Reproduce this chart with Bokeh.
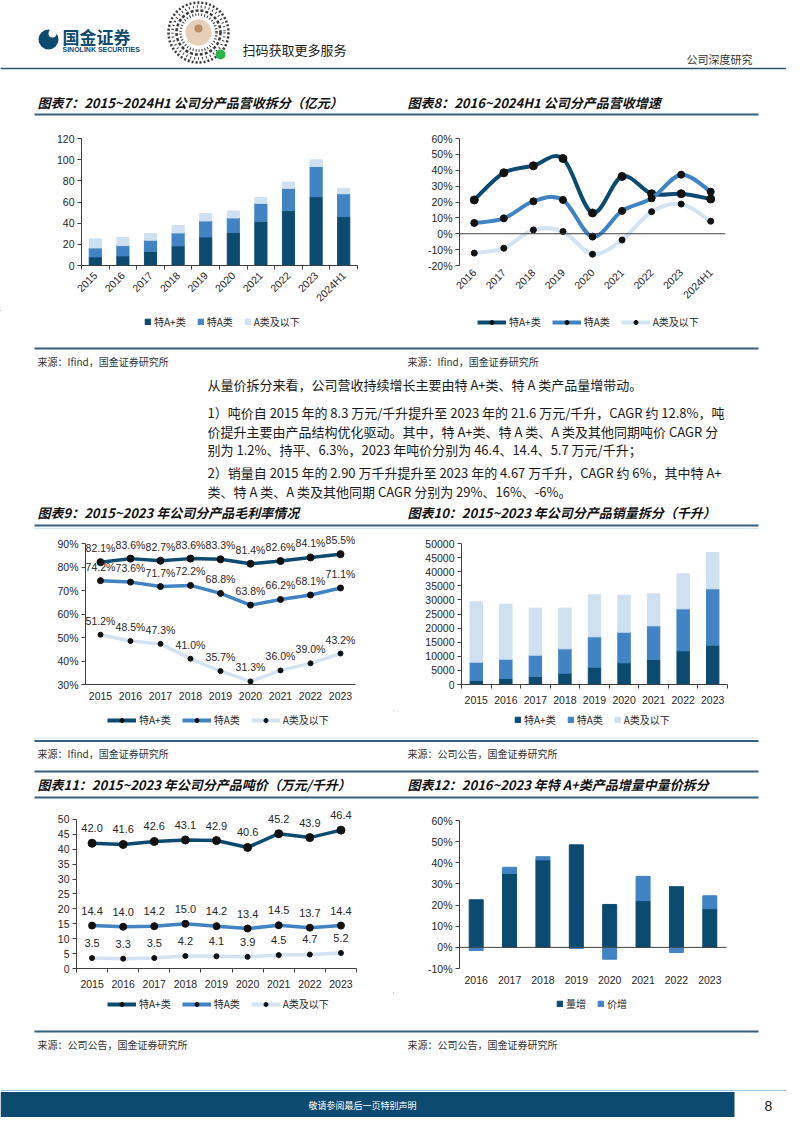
import math
from bokeh.plotting import figure
from bokeh.layouts import column, row
from bokeh.models import (Range1d, FixedTicker, Legend, LegendItem, Span, ColumnDataSource,
                          LabelSet, PrintfTickFormatter)
from bokeh.core.properties import value
from bokeh.embed import file_html
from bokeh.resources import INLINE

DARK = "#0d4a70"
MID = "#4283c4"
LIGHT = "#cfe0f1"
LLINE = "#d3e3f2"
AX = "#404040"
TXT = "#262626"
NUM = "Liberation Sans"
CJK = "Noto Sans CJK SC"

# ---------------- data ----------------
# 图表7 revenue (亿元)
rev_years = ["2015", "2016", "2017", "2018", "2019", "2020", "2021", "2022", "2023", "2024H1"]
rev_ap = [8.2, 9.1, 13.2, 18.5, 27.0, 31.1, 41.5, 51.8, 65.0, 46.2]
rev_a = [8.4, 9.7, 10.7, 12.3, 15.1, 13.8, 17.2, 21.1, 28.6, 21.6]
rev_low = [8.5, 7.6, 6.3, 6.9, 6.9, 6.6, 5.4, 5.9, 6.3, 5.1]
rev_ticks = [0, 20, 40, 60, 80, 100, 120]

# 图表8 revenue growth (%)
gr_years = ["2016", "2017", "2018", "2019", "2020", "2021", "2022", "2023", "2024H1"]
gr_ap = [21.3, 38.4, 42.8, 47.4, 13.1, 36.1, 25.2, 25.2, 21.9]
gr_a = [6.8, 9.7, 20.4, 21.3, -1.8, 14.4, 22.3, 37.2, 26.5]
gr_low = [-12.2, -9.1, 2.4, 1.4, -12.9, -3.9, 13.9, 18.7, 7.9]
gr_ticks = [-20, -10, 0, 10, 20, 30, 40, 50, 60]

# 图表9 gross margin (%)
yrs9 = ["2015", "2016", "2017", "2018", "2019", "2020", "2021", "2022", "2023"]
gm_ap = [82.1, 83.6, 82.7, 83.6, 83.3, 81.4, 82.6, 84.1, 85.5]
gm_a = [74.2, 73.6, 71.7, 72.2, 68.8, 63.8, 66.2, 68.1, 71.1]
gm_low = [51.2, 48.5, 47.3, 41.0, 35.7, 31.3, 36.0, 39.0, 43.2]
gm_ticks = [30, 40, 50, 60, 70, 80, 90]

# 图表10 sales volume (千升)
vol_ap = [1420, 2130, 2840, 4020, 6150, 7680, 8870, 11940, 13950]
vol_a = [6500, 6850, 7560, 8630, 10750, 10880, 11930, 14890, 19970]
vol_low = [21380, 19510, 16670, 14420, 14900, 13120, 11350, 12410, 12890]
vol_ticks = [0, 5000, 10000, 15000, 20000, 25000, 30000, 35000, 40000, 45000, 50000]

# 图表11 price per kl (万元/千升)
pr_ap = [42.0, 41.6, 42.6, 43.1, 42.9, 40.6, 45.2, 43.9, 46.4]
pr_a = [14.4, 14.0, 14.2, 15.0, 14.2, 13.4, 14.5, 13.7, 14.4]
pr_low = [3.5, 3.3, 3.5, 4.2, 4.1, 3.9, 4.5, 4.7, 5.2]
pr_ticks = [0, 5, 10, 15, 20, 25, 30, 35, 40, 45, 50]

# 图表12 特A+ growth split (%)
yrs12 = ["2016", "2017", "2018", "2019", "2020", "2021", "2022", "2023"]
g_vol = [22.5, 35.0, 41.4, 48.5, 20.3, 22.1, 28.7, 18.3]
g_price = [-1.5, 2.9, 1.5, -0.5, -5.6, 11.5, -2.4, 6.1]
g12_ticks = [-10, 0, 10, 20, 30, 40, 50, 60]

names3 = ["特A+类", "特A类", "A类及以下"]


# ---------------- helpers ----------------
def band(y0, y1, w=786, x0=8):
    p = figure(width=w, height=y1 - y0, x_range=Range1d(x0, x0 + w), y_range=Range1d(y1, y0),
               x_axis_type=None, y_axis_type=None, output_backend="svg",
               toolbar_location=None, min_border=0)
    p.outline_line_color = None
    p.background_fill_color = "white"
    p.border_fill_color = "white"
    return p


def put(p, x, y, s, size, color="#222222", font=CJK, style="normal", align="left"):
    p.text(x=[x], y=[y], text=[s], text_font=value(font), text_font_size=size,
           text_color=color, text_font_style=style, text_align=align, text_baseline="middle")


def hline(p, x0, x1, y, color, w):
    p.segment(x0=[x0], y0=[y], x1=[x1], y1=[y], line_color=color, line_width=w)


def chart(height, left, right, top, bottom, labels, yr, yticks, bounds, pct=False,
          xminor=True, rot=None, standoff=7, xline=True):
    n = len(labels)
    p = figure(width=393, height=height, x_range=Range1d(-0.5, n - 0.5), y_range=Range1d(*yr),
               output_backend="svg", toolbar_location=None,
               min_border_left=left, min_border_right=right,
               min_border_top=top, min_border_bottom=bottom)
    p.xgrid.visible = False
    p.ygrid.visible = False
    p.outline_line_color = None
    p.background_fill_color = "white"
    p.border_fill_color = "white"
    for ax in p.axis:
        ax.axis_line_color = AX
        ax.major_label_text_font = NUM
        ax.major_label_text_font_size = "10.5px"
        ax.major_label_text_color = TXT
        ax.major_tick_line_color = AX
        ax.minor_tick_line_color = AX
        ax.major_tick_in = 0
        ax.minor_tick_in = 0
        ax.minor_tick_out = 0
    xa = p.xaxis[0]
    xa.ticker = FixedTicker(ticks=list(range(n)),
                            minor_ticks=[i - 0.5 for i in range(n + 1)] if xminor else [])
    xa.major_label_overrides = {i: lab for i, lab in enumerate(labels)}
    xa.major_tick_out = 0
    xa.minor_tick_out = 4 if xminor else 0
    xa.major_label_standoff = standoff
    if not xline:
        xa.axis_line_color = None
        xa.minor_tick_out = 0
    if rot is not None:
        xa.major_label_orientation = rot
    ya = p.yaxis[0]
    ya.ticker = FixedTicker(ticks=yticks)
    ya.bounds = bounds
    ya.major_tick_out = 4
    ya.major_label_standoff = 3
    if pct:
        ya.formatter = PrintfTickFormatter(format="%d%%")
    return p


def legend_strip(y0, y1, x0, specs, loc, gw, gh, kind):
    # legend-only strip: proxy renderers sit far outside the visible range
    lf = band(y0, y1, w=393, x0=x0)
    off = [-5000]
    items = []
    for nm, col, ms in specs:
        if kind == "bar":
            r = lf.vbar(x=off, top=off, width=1, fill_color=col, line_color=col)
            items.append(LegendItem(label=nm, renderers=[r]))
        else:
            rl = lf.line(x=[-5000, -4990], y=[-5000, -5000], line_color=col, line_width=4)
            rs = lf.scatter(x=off, y=off, size=ms, color="#111111")
            items.append(LegendItem(label=nm, renderers=[rl, rs]))
    lg = Legend(items=items, orientation="horizontal", location=loc,
                glyph_width=gw, glyph_height=gh, label_height=12, label_standoff=3,
                spacing=11, padding=0, margin=0,
                label_text_font=CJK, label_text_font_size="10px", label_text_color=TXT,
                background_fill_alpha=0, border_line_color=None)
    lf.add_layout(lg)
    return lf


def bezier_src(xs, ys, t=1.0 / 6):
    n = len(xs)
    d = dict(x0=[], y0=[], x1=[], y1=[], cx0=[], cy0=[], cx1=[], cy1=[])
    for i in range(n - 1):
        xm, ym = (xs[i - 1], ys[i - 1]) if i > 0 else (xs[i], ys[i])
        xp, yp = (xs[i + 2], ys[i + 2]) if i + 2 < n else (xs[i + 1], ys[i + 1])
        d["x0"].append(xs[i]); d["y0"].append(ys[i])
        d["x1"].append(xs[i + 1]); d["y1"].append(ys[i + 1])
        d["cx0"].append(xs[i] + (xs[i + 1] - xm) * t)
        d["cy0"].append(ys[i] + (ys[i + 1] - ym) * t)
        d["cx1"].append(xs[i + 1] - (xp - xs[i]) * t)
        d["cy1"].append(ys[i + 1] - (yp - ys[i]) * t)
    return ColumnDataSource(d)


specs3_bar = [(names3[0], DARK, 0), (names3[1], MID, 0), (names3[2], LIGHT, 0)]
specs3_line = [(names3[0], DARK, 7), (names3[1], MID, 6), (names3[2], LLINE, 5)]

# ---------------- chart 7 ----------------
c7 = chart(190, 81, 36, 18, 45, rev_years, (0, 120), rev_ticks, (0, 120), rot=math.pi / 4, standoff=4)
src7 = ColumnDataSource(dict(x=list(range(len(rev_years))), ap=rev_ap, a=rev_a, low=rev_low))
c7.vbar_stack(["ap", "a", "low"], x="x", width=0.44, color=[DARK, MID, LIGHT], source=src7)
l7 = legend_strip(318, 345, 8, specs3_bar, (144, 8), 7, 7, "bar")

# ---------------- chart 8 ----------------
c8 = chart(190, 66, 61, 18, 45, gr_years, (-20, 60), gr_ticks, (-20, 60), pct=True, xminor=False,
           rot=math.pi / 4, standoff=5, xline=False)
c8.add_layout(Span(location=0, dimension="width", line_color=AX, line_width=1))
xs8 = list(range(len(gr_years)))
for ys, col, ms in [(gr_ap, DARK, 8), (gr_a, MID, 7), (gr_low, LLINE, 6)]:
    c8.bezier(x0="x0", y0="y0", x1="x1", y1="y1", cx0="cx0", cy0="cy0", cx1="cx1", cy1="cy1",
              source=bezier_src(xs8, ys), line_color=col, line_width=4)
    c8.scatter(xs8, ys, size=ms, color="#111111")
l8 = legend_strip(318, 345, 401, specs3_line, (84, 8), 29, 10, "line")

# ---------------- chart 9 ----------------
c9 = chart(181, 85, 38, 0, 26, yrs9, (30, 96), gm_ticks, (30, 90), pct=True, xminor=False)
xs9 = list(range(len(yrs9)))
for ys, col, ms in [(gm_ap, DARK, 7), (gm_a, MID, 6), (gm_low, LLINE, 5)]:
    c9.line(xs9, ys, line_color=col, line_width=3.5)
    c9.scatter(xs9, ys, size=ms, color="#111111")
    lsrc = ColumnDataSource(dict(x=xs9, y=ys, t=["%.1f%%" % v for v in ys]))
    c9.add_layout(LabelSet(x="x", y="y", text="t", source=lsrc, y_offset=14, text_align="center",
                           text_baseline="middle", text_font=value(NUM), text_font_size="10.5px",
                           text_color=TXT))
l9 = legend_strip(718, 745, 8, specs3_line, (107, 10), 29, 10, "line")

# ---------------- chart 10 ----------------
c10 = chart(181, 68, 59, 0, 26, yrs9, (0, 54965), vol_ticks, (0, 50000))
src10 = ColumnDataSource(dict(x=xs9, ap=vol_ap, a=vol_a, low=vol_low))
c10.vbar_stack(["ap", "a", "low"], x="x", width=0.42, color=[DARK, MID, LIGHT], source=src10)
l10 = legend_strip(718, 745, 401, specs3_bar, (121, 10), 7, 7, "bar")

# ---------------- chart 11 ----------------
c11 = chart(188, 76, 37, 0, 24, yrs9, (0, 55), pr_ticks, (0, 50))
for ys, col, ms in [(pr_ap, DARK, 8), (pr_a, MID, 7), (pr_low, LLINE, 5)]:
    c11.line(xs9, ys, line_color=col, line_width=3.5)
    c11.scatter(xs9, ys, size=ms, color="#111111")
    lsrc = ColumnDataSource(dict(x=xs9, y=ys, t=["%.1f" % v for v in ys]))
    c11.add_layout(LabelSet(x="x", y="y", text="t", source=lsrc, y_offset=15, text_align="center",
                            text_baseline="middle", text_font=value(NUM), text_font_size="11px",
                            text_color=TXT))
l11 = legend_strip(1000, 1028, 8, specs3_line, (107, 9), 29, 10, "line")

# ---------------- chart 12 ----------------
c12 = chart(188, 66, 60, 0, 24, yrs12, (-10, 67.6), g12_ticks, (-10, 60), pct=True, xminor=False,
            xline=False)
c12.add_layout(Span(location=0, dimension="width", line_color=AX, line_width=1))
xs12 = list(range(len(yrs12)))
p_bot = [v if g >= 0 else g for v, g in zip(g_vol, g_price)]
p_top = [v + g if g >= 0 else 0 for v, g in zip(g_vol, g_price)]
src12 = ColumnDataSource(dict(x=xs12, vol=g_vol, pb=p_bot, pt=p_top))
c12.vbar(x="x", bottom=0, top="vol", width=0.42, color=DARK, source=src12)
c12.vbar(x="x", bottom="pb", top="pt", width=0.42, color=MID, source=src12)
l12 = legend_strip(1000, 1028, 401, [("量增", DARK, 0), ("价增", MID, 0)], (163, 9), 7, 7, "bar")

# ---------------- page bands ----------------
LINE = "#35607f"
BORDER = "#d6e6f3"
b1 = band(8, 128)
b1.circle(x=[56], y=[47], radius=10, fill_color=DARK, line_color=None)
b1.circle(x=[60], y=[41], radius=4, fill_color="white", line_color=None)
put(b1, 70, 44, "国金证券", "17px", DARK, CJK, "bold")
put(b1, 70, 57, "SINOLINK SECURITIES", "7px", DARK, NUM, "bold")
for r, dash in [(30, "2 2"), (26, "1 3"), (22, "3 2"), (18, "1 2")]:
    b1.circle(x=[206], y=[40], radius=r, fill_color=None, line_color="#3a3a3a",
              line_width=2.5, line_dash=dash)
b1.circle(x=[206], y=[40], radius=13, fill_color="#e6cfb8", line_color=None)
b1.circle(x=[206], y=[36], radius=4, fill_color="#b98d66", line_color=None)
b1.circle(x=[228], y=[62], radius=5, fill_color="#2db24a", line_color=None)
put(b1, 250, 57, "扫码获取更多服务", "13px", "#222222")
put(b1, 760, 66, "公司深度研究", "11px", "#333333", align="right")
hline(b1, 8, 794, 76, "#2f5470", 1.5)
put(b1, 45, 110, "图表7：2015~2024H1 公司分产品营收拆分（亿元）", "13px", "#111111", CJK, "bold italic")
put(b1, 415, 110, "图表8：2016~2024H1 公司分产品营收增速", "13px", "#111111", CJK, "bold italic")
hline(b1, 42, 766, 122, LINE, 2)

b3 = band(345, 537)
hline(b3, 42, 766, 356, LINE, 2)
put(b3, 45, 369, "来源：Ifind，国金证券研究所", "10px", "#333333")
put(b3, 415, 369, "来源：Ifind，国金证券研究所", "10px", "#333333")
para = [
    (392, "从量价拆分来看，公司营收持续增长主要由特 A+类、特 A 类产品量增带动。"),
    (420, "1）吨价自 2015 年的 8.3 万元/千升提升至 2023 年的 21.6 万元/千升，CAGR 约 12.8%，吨"),
    (439, "价提升主要由产品结构优化驱动。其中，特 A+类、特 A 类、A 类及其他同期吨价 CAGR 分"),
    (457, "别为 1.2%、持平、6.3%，2023 年吨价分别为 46.4、14.4、5.7 万元/千升；"),
    (480, "2）销量自 2015 年的 2.90 万千升提升至 2023 年的 4.67 万千升，CAGR 约 6%，其中特 A+"),
    (499, "类、特 A 类、A 类及其他同期 CAGR 分别为 29%、16%、-6%。"),
]
for y, s in para:
    put(b3, 215, y, s, "13px", "#1a1a1a")
put(b3, 45, 520, "图表9：2015~2023 年公司分产品毛利率情况", "13px", "#111111", CJK, "bold italic")
put(b3, 415, 520, "图表10：2015~2023 年公司分产品销量拆分（千升）", "13px", "#111111", CJK, "bold italic")
hline(b3, 42, 766, 533, LINE, 2)
hline(b3, 42, 766, 536, BORDER, 1.5)

b5 = band(745, 812)
hline(b5, 42, 766, 745.5, BORDER, 1.5)
hline(b5, 42, 766, 748.5, LINE, 2)
put(b5, 45, 761, "来源：Ifind，国金证券研究所", "10px", "#333333")
put(b5, 415, 761, "来源：公司公告，国金证券研究所", "10px", "#333333")
hline(b5, 42, 766, 779, LINE, 2)
put(b5, 45, 792, "图表11：2015~2023 年公司分产品吨价（万元/千升）", "13px", "#111111", CJK, "bold italic")
put(b5, 415, 792, "图表12：2016~2023 年特 A+类产品增量中量价拆分", "13px", "#111111", CJK, "bold italic")
hline(b5, 42, 766, 805, LINE, 2)

b7 = band(1028, 1125)
hline(b7, 42, 766, 1039, LINE, 2)
put(b7, 45, 1052, "来源：公司公告，国金证券研究所", "10px", "#333333")
put(b7, 415, 1052, "来源：公司公告，国金证券研究所", "10px", "#333333")
hline(b7, 8, 794, 1098, "#9dc3e6", 1)
b7.quad(left=[8], right=[742], top=[1099.5], bottom=[1130], fill_color=DARK, line_color=None)
put(b7, 370, 1113, "敬请参阅最后一页特别声明", "9px", "white", CJK, align="center")
put(b7, 776, 1113, "8", "14px", "#222222", NUM, align="center")

page = column(b1, row(c7, c8, spacing=0), row(l7, l8, spacing=0), b3,
              row(c9, c10, spacing=0), row(l9, l10, spacing=0), b5,
              row(c11, c12, spacing=0), row(l11, l12, spacing=0), b7, spacing=0)

open("out.html", "w").write(file_html(page, INLINE))
